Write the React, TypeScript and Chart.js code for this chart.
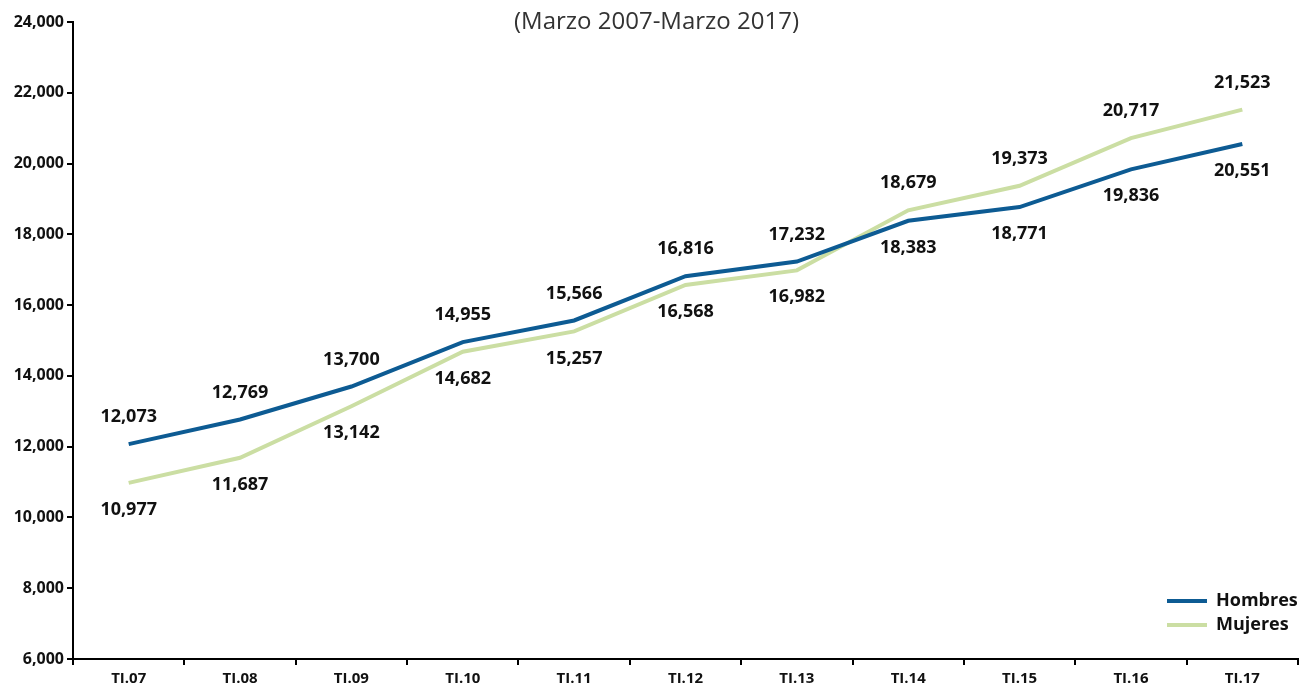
import React, { useEffect, useRef } from "react";
import { Chart, registerables } from "chart.js";

Chart.register(...registerables);

const categories = ["TI.07", "TI.08", "TI.09", "TI.10", "TI.11", "TI.12", "TI.13", "TI.14", "TI.15", "TI.16", "TI.17"];
const hombres = [12073, 12769, 13700, 14955, 15566, 16816, 17232, 18383, 18771, 19836, 20551];
const mujeres = [10977, 11687, 13142, 14682, 15257, 16568, 16982, 18679, 19373, 20717, 21523];
const seriesNames = ["Hombres", "Mujeres"];
const subtitle = "(Marzo 2007-Marzo 2017)";
const yMin = 6000;
const yMax = 24000;
const yStep = 2000;

const FONT = "'Open Sans', 'DejaVu Sans', sans-serif";
const BLUE = "#0d5b93";
const GREEN = "#cbdea3";

const fmt = (v: number) => v.toLocaleString("en-US");

const overlayPlugin = {
  id: "overlay",
  afterDatasetsDraw(chart: any) {
    const ctx = chart.ctx;
    const area = chart.chartArea;
    ctx.save();
    // data labels
    ctx.font = `bold 18px ${FONT}`;
    ctx.fillStyle = "#111";
    ctx.textAlign = "center";
    ctx.textBaseline = "middle";
    const ds = chart.data.datasets;
    ds.forEach((d: any, di: number) => {
      const meta = chart.getDatasetMeta(di);
      const other = ds[1 - di];
      meta.data.forEach((pt: any, i: number) => {
        const v = d.data[i];
        const higher = v >= other.data[i];
        const y = higher ? pt.y - 27 : pt.y + 27;
        ctx.fillText(fmt(v), pt.x, y);
      });
    });
    // legend
    ds.forEach((d: any, di: number) => {
      const y = area.bottom - 58 + di * 24;
      ctx.strokeStyle = d.borderColor;
      ctx.lineWidth = 4;
      ctx.beginPath();
      ctx.moveTo(area.right - 131, y);
      ctx.lineTo(area.right - 91, y);
      ctx.stroke();
      ctx.fillStyle = "#111";
      ctx.textAlign = "left";
      ctx.font = `bold 18px ${FONT}`;
      ctx.fillText(d.label, area.right - 82, y);
    });
    // subtitle
    ctx.font = `24px ${FONT}`;
    ctx.fillStyle = "#333";
    ctx.textAlign = "center";
    ctx.textBaseline = "middle";
    ctx.fillText(subtitle, chart.width / 2 + 7, 22);
    ctx.restore();
  },
};

export default function App() {
  const ref = useRef<HTMLCanvasElement | null>(null);
  useEffect(() => {
    if (!ref.current) return;
    const chart = new Chart(ref.current, {
      type: "line",
      data: {
        labels: categories,
        datasets: [
          {
            label: seriesNames[0],
            data: hombres,
            borderColor: BLUE,
            backgroundColor: BLUE,
            borderWidth: 4,
            pointRadius: 0,
            tension: 0,
          },
          {
            label: seriesNames[1],
            data: mujeres,
            borderColor: GREEN,
            backgroundColor: GREEN,
            borderWidth: 4,
            pointRadius: 0,
            tension: 0,
          },
        ],
      },
      options: {
        animation: false,
        responsive: true,
        maintainAspectRatio: false,
        layout: { padding: { top: 22, right: 1, left: 0, bottom: 0 } },
        plugins: {
          legend: { display: false },
          title: { display: false },
          tooltip: { enabled: false },
        },
        scales: {
          x: {
            type: "category",
            offset: true,
            grid: {
              offset: true,
              drawOnChartArea: false,
              drawTicks: true,
              tickLength: 6,
              color: "#000",
              lineWidth: 2,
            },
            border: { display: true, color: "#000", width: 2 },
            ticks: {
              color: "#111",
              font: { family: FONT, size: 15, weight: "bold" },
              padding: 5,
              maxRotation: 0,
              autoSkip: false,
            },
            afterFit: (s: any) => {
              s.height = 28;
            },
          },
          y: {
            min: yMin,
            max: yMax,
            grid: {
              drawOnChartArea: false,
              drawTicks: true,
              tickLength: 6,
              color: "#000",
              lineWidth: 2,
            },
            border: { display: true, color: "#000", width: 2 },
            ticks: {
              stepSize: yStep,
              color: "#111",
              font: { family: FONT, size: 16, weight: "bold" },
              padding: 3,
              callback: (v: any) => fmt(Number(v)),
            },
            afterFit: (s: any) => {
              s.width = 73;
            },
          },
        },
      },
      plugins: [overlayPlugin],
    });
    return () => chart.destroy();
  }, []);
  return (
    <div style={{ position: "fixed", left: 0, top: 0, width: 1299, height: 687, background: "#fff" }}>
      <canvas ref={ref} />
    </div>
  );
}
